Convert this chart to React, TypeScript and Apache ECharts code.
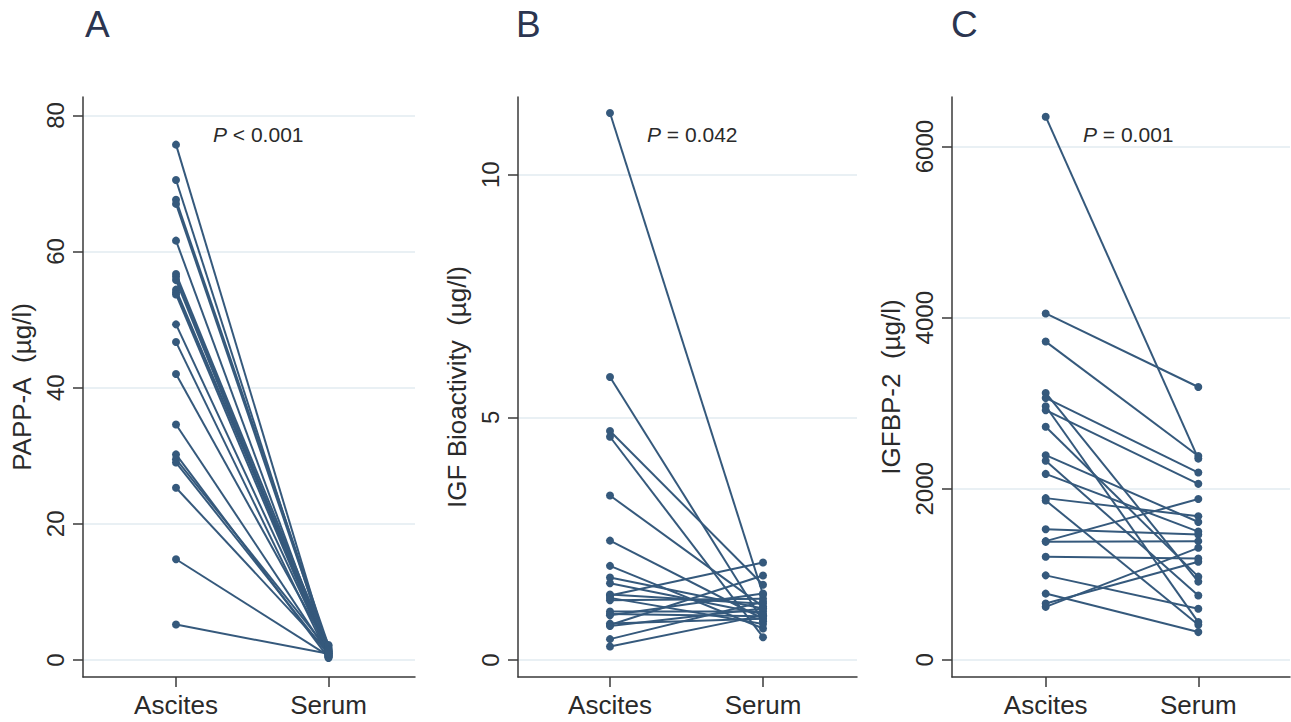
import React, { useEffect, useRef } from 'react';
import * as echarts from 'echarts';

// ---------- data ----------
const groups = ['Ascites', 'Serum'];

const pappAscites = [75.7, 70.5, 67.6, 67.0, 61.6, 56.7, 56.3, 55.8, 54.4, 54.0, 53.7, 49.3, 46.7, 42.0, 34.6, 30.2, 29.5, 29.0, 25.3, 14.8, 5.2];
const pappSerum = [1.2, 0.9, 2.1, 1.5, 0.6, 1.8, 1.0, 0.4, 1.3, 2.2, 0.7, 1.1, 0.5, 1.6, 0.9, 0.3, 1.4, 0.8, 1.2, 0.6, 0.9];

const igfAscites = [11.27, 5.83, 4.72, 4.6, 3.39, 2.46, 1.94, 1.7, 1.58, 1.35, 1.33, 1.28, 1.23, 1.0, 0.95, 0.92, 0.75, 0.72, 0.7, 0.43, 0.28];
const igfSerum = [1.35, 0.8, 1.55, 0.47, 1.1, 0.85, 0.65, 1.06, 0.95, 1.16, 2.01, 0.74, 1.26, 1.0, 0.9, 1.37, 0.85, 1.74, 1.06, 1.2, 0.92];

const bp2Ascites = [6350, 4050, 3721, 3120, 3062, 2965, 2919, 2725, 2393, 2328, 2174, 1891, 1864, 1527, 1388, 1380, 1206, 988, 775, 659, 620];
const bp2Serum = [2353, 3190, 2384, 915, 2190, 442, 2058, 973, 1612, 752, 1500, 1680, 411, 1465, 1880, 1388, 1186, 597, 325, 1147, 1310];

const panelLetters = ['A', 'B', 'C'];
const yTitles = ['PAPP-A\u00a0 (\u00b5g/l)', 'IGF Bioactivity\u00a0 (\u00b5g/l)', 'IGFBP-2\u00a0 (\u00b5g/l)'];
const yTicksA = [0, 20, 40, 60, 80];
const yTicksB = [0, 5, 10];
const yTicksC = [0, 2000, 4000, 6000];
const pLabels = [' < 0.001', ' = 0.042', ' = 0.001'];

// ---------- layout / style ----------
const FONT = 'Liberation Sans, Arial, sans-serif';
const LINE = '#35597c';
const AXIS = '#3a3a3a';
const GRIDC = '#e9f0f4';
const TEXT = '#2a2a2a';

const panels = [
  { asc: pappAscites, ser: pappSerum, ticks: yTicksA, left: 83, width: 332, xMin: -0.61, xMax: 1.567, yMin: -2.5, yMax: 82.7, letterX: 85, pX: 213 },
  { asc: igfAscites, ser: igfSerum, ticks: yTicksB, left: 518, width: 339, xMin: -0.601, xMax: 1.614, yMin: -0.35, yMax: 11.6, letterX: 516, pX: 647 },
  { asc: bp2Ascites, ser: bp2Serum, ticks: yTicksC, left: 952, width: 338, xMin: -0.614, xMax: 1.601, yMin: -200, yMax: 6580, letterX: 951, pX: 1083 },
];

function buildOption() {
  const grid: any[] = [];
  const xAxis: any[] = [];
  const yAxis: any[] = [];
  const series: any[] = [];
  const graphic: any[] = [];

  panels.forEach((p, i) => {
    grid.push({ left: p.left, top: 97, width: p.width, height: 580, containLabel: false });
    xAxis.push({
      type: 'value',
      gridIndex: i,
      min: p.xMin,
      max: p.xMax,
      axisLine: { show: true, onZero: false, lineStyle: { color: AXIS, width: 1.5 } },
      axisTick: { show: true, length: 10, customValues: [0, 1], lineStyle: { color: AXIS, width: 1.5 } },
      axisLabel: {
        customValues: [0, 1],
        formatter: (v: number) => groups[Math.round(v)] ?? '',
        fontFamily: FONT,
        fontSize: 26,
        color: TEXT,
        margin: 15,
      },
      splitLine: { show: false },
    });
    yAxis.push({
      type: 'value',
      gridIndex: i,
      min: p.yMin,
      max: p.yMax,
      name: yTitles[i],
      nameLocation: 'middle',
      nameGap: 48,
      nameRotate: 90,
      nameTextStyle: { fontFamily: FONT, fontSize: 26, color: TEXT },
      axisLine: { show: true, onZero: false, lineStyle: { color: AXIS, width: 1.5 } },
      axisTick: { show: true, length: 10, customValues: p.ticks, lineStyle: { color: AXIS, width: 1.5 } },
      axisLabel: {
        customValues: p.ticks,
        formatter: (v: number) => String(v),
        rotate: 90,
        fontFamily: FONT,
        fontSize: 24,
        color: TEXT,
        margin: 16,
      },
      splitLine: { show: true, lineStyle: { color: GRIDC, width: 2 } },
    });

    p.asc.forEach((a, j) => {
      series.push({
        type: 'line',
        xAxisIndex: i,
        yAxisIndex: i,
        data: [[0, a], [1, p.ser[j]]],
        symbol: 'circle',
        symbolSize: 8,
        showAllSymbol: true,
        lineStyle: { color: LINE, width: 2 },
        itemStyle: { color: LINE },
        silent: true,
      });
    });

    graphic.push({
      type: 'text',
      x: p.letterX,
      y: 24,
      style: { text: panelLetters[i], font: `37px ${FONT}`, fill: '#2b3550', textVerticalAlign: 'middle', textAlign: 'left' },
    });
    graphic.push({
      type: 'text',
      x: p.pX,
      y: 134,
      style: {
        text: '{i|P}' + pLabels[i],
        font: `21px ${FONT}`,
        fill: TEXT,
        textVerticalAlign: 'middle',
        textAlign: 'left',
        rich: { i: { fontStyle: 'italic', fontSize: 21, fontFamily: FONT, fill: TEXT } },
      },
    });
  });

  return {
    animation: false,
    backgroundColor: '#ffffff',
    grid,
    xAxis,
    yAxis,
    series,
    graphic,
  };
}

export default function App() {
  const ref = useRef<HTMLDivElement>(null);
  useEffect(() => {
    if (!ref.current) return;
    const chart = echarts.init(ref.current, undefined, { renderer: 'svg' });
    chart.setOption(buildOption());
    return () => chart.dispose();
  }, []);
  return (
    <div
      ref={ref}
      style={{ position: 'fixed', left: 0, top: 0, width: 1291, height: 722, background: '#fff' }}
    />
  );
}
